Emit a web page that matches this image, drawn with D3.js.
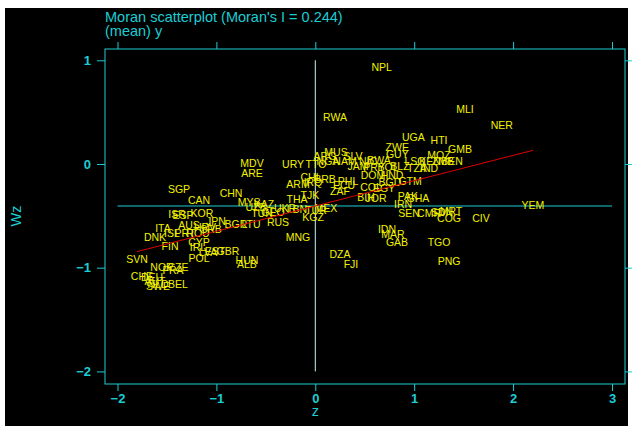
<!DOCTYPE html>
<html>
<head>
<meta charset="utf-8">
<script src="https://cdn.jsdelivr.net/npm/d3@7"></script>
<style>
  html, body { margin: 0; padding: 0; background: #ffffff; }
  svg { display: block; }
</style>
</head>
<body>
<svg id="chart" width="633" height="428"></svg>
<script>
// ---- data ----
const titleLines = ["Moran scatterplot (Moran's I = 0.244)", "(mean) y"];
const xTicks = [-2, -1, 0, 1, 2, 3];
const yTicks = [-2, -1, 0, 1];
const moranI = 0.244;
const meanWz = -0.405;

const countries = ["NPL","RWA","MLI","NER","HTI","UGA","GMB","ZWE","MOZ","GUY","LSO","KEN","ZMB","BEN","TZA","IND",
  "MUS","ARG","TTO","NGA","SLV","NAM","JAM","NIC","BWA","PRY","BOL","BLZ","DOM","HND","BGD","GTM","PHL","ECU","ZAF",
  "COL","EGY","PAK","GHA","JOR","BIH","IRN","SEN","CMR","SDN","MRT","COG","CIV","YEM","IDN","MAR","GAB","TGO","PNG",
  "FJI","DZA","MDV","ARE","URY","CHL","ARM","IRQ","BRB","TJK","THA","MYS","KAZ","UZB","UKR","LBN","TUN","GEO","RUS",
  "TUR","MEX","KGZ","MNG","SGP","CAN","CHN","ISR","ESP","KOR","JPN","AUS","ITA","HRV","SRB","BGR","LTU","DNK","ISL",
  "PRT","ROU","FIN","CYP","IRL","LVA","EST","GBR","SVN","POL","HUN","ALB","NOR","CZE","FRA","CHE","DEU","AUT","NLD",
  "SWE","BEL"];
const zValues = [0.671,0.199,1.514,1.885,1.251,0.991,1.463,0.829,1.251,0.829,1.008,1.160,1.291,1.382,1.028,1.150,
  0.209,0.098,0.007,0.128,0.381,0.300,0.432,0.533,0.644,0.594,0.735,0.856,0.583,0.776,0.755,0.958,0.331,0.290,0.250,
  0.563,0.695,0.937,1.038,0.614,0.513,0.887,0.947,1.150,1.281,1.372,1.352,1.675,2.201,0.725,0.786,0.826,1.251,1.352,
  0.361,0.250,-0.640,-0.640,-0.225,-0.043,-0.175,-0.023,0.098,-0.054,-0.185,-0.670,-0.519,-0.600,-0.306,-0.185,-0.539,-0.428,-0.377,
  0.007,0.108,-0.023,-0.175,-1.378,-1.176,-0.852,-1.398,-1.338,-1.146,-1.004,-1.277,-1.540,-1.115,-1.055,-0.802,-0.650,-1.621,-1.449,
  -1.318,-1.186,-1.469,-1.176,-1.186,-1.085,-1.014,-0.883,-1.803,-1.176,-0.691,-0.691,-1.550,-1.388,-1.439,-1.753,-1.651,-1.621,-1.590,
  -1.590,-1.388];
const wzValues = [0.938,0.453,0.530,0.373,0.231,0.257,0.148,0.167,0.087,0.094,0.029,0.029,0.029,0.029,-0.039,-0.039,
  0.116,0.077,0.000,0.029,0.077,0.029,-0.019,0.029,0.039,-0.029,-0.029,-0.019,-0.106,-0.106,-0.174,-0.164,-0.164,-0.203,-0.260,
  -0.222,-0.231,-0.309,-0.328,-0.328,-0.318,-0.386,-0.473,-0.473,-0.463,-0.453,-0.521,-0.521,-0.395,-0.627,-0.675,-0.752,-0.752,-0.935,
  -0.964,-0.868,0.010,-0.087,0.000,-0.125,-0.193,-0.174,-0.145,-0.299,-0.338,-0.366,-0.386,-0.415,-0.424,-0.434,-0.473,-0.463,-0.559,
  -0.444,-0.424,-0.511,-0.704,-0.241,-0.347,-0.280,-0.482,-0.492,-0.473,-0.550,-0.588,-0.617,-0.608,-0.627,-0.579,-0.579,-0.704,-0.665,
  -0.665,-0.665,-0.791,-0.752,-0.800,-0.849,-0.839,-0.839,-0.916,-0.906,-0.926,-0.964,-0.993,-0.993,-1.022,-1.080,-1.090,-1.128,-1.157,
  -1.176,-1.157];

// ---- drawing ----
const CYAN = "#1ccdd4";
const YELLOW = "#f2f200";
const RED = "#e00000";
const FONT = "'Liberation Sans', Arial, Helvetica, sans-serif";

const svg = d3.select("#chart");
svg.append("rect").attr("x", 5).attr("y", 8).attr("width", 623).attr("height", 418).attr("fill", "#000");

const frame = {left: 105, right: 625, top: 49, bottom: 384};
const x = d3.scaleLinear().domain([-2, 3]).range([117.5, 612]);
const y = d3.scaleLinear().domain([-2, 1]).range([371.4, 60.3]);

// title
svg.append("g").selectAll("text").data(titleLines).join("text")
  .attr("x", 105).attr("y", (d, i) => 22 + i * 14)
  .attr("fill", CYAN).attr("font-family", FONT).attr("font-size", 14.5)
  .text(d => d);

// frame
svg.append("rect").attr("x", frame.left).attr("y", frame.top)
  .attr("width", frame.right - frame.left).attr("height", frame.bottom - frame.top)
  .attr("fill", "none").attr("stroke", CYAN).attr("stroke-width", 1);

// axes with mirrored ticks
const axisStyle = g => {
  g.selectAll("path").remove();
  g.selectAll("line").attr("stroke", CYAN);
  g.selectAll("text").attr("fill", CYAN).attr("font-family", FONT).attr("font-size", 13).attr("font-weight", "bold");
};
svg.append("g").attr("transform", `translate(0,${frame.bottom})`)
  .call(d3.axisBottom(x).tickValues(xTicks).tickSize(7).tickPadding(3).tickFormat(d3.format("d")))
  .call(axisStyle);
svg.append("g").attr("transform", `translate(0,${frame.top})`)
  .call(d3.axisTop(x).tickValues(xTicks).tickSize(7).tickFormat(""))
  .call(axisStyle);
svg.append("g").attr("transform", `translate(${frame.left},0)`)
  .call(d3.axisLeft(y).tickValues(yTicks).tickSize(8).tickPadding(6).tickFormat(d3.format("d")))
  .call(axisStyle);
svg.append("g").attr("transform", `translate(${frame.right},0)`)
  .call(d3.axisRight(y).tickValues(yTicks).tickSize(7).tickFormat(""))
  .call(axisStyle);

// axis titles
svg.append("text").attr("x", x(0)).attr("y", 416).attr("text-anchor", "middle")
  .attr("fill", CYAN).attr("font-family", FONT).attr("font-size", 14.5).text("z");
svg.append("text").attr("transform", `translate(21,${216}) rotate(-90)`).attr("text-anchor", "middle")
  .attr("fill", CYAN).attr("font-family", FONT).attr("font-size", 14.5).text("Wz");

// reference lines
svg.append("line").attr("x1", x(0)).attr("x2", x(0)).attr("y1", y(1)).attr("y2", y(-2))
  .attr("stroke", "#c8f4f6").attr("stroke-width", 1);
svg.append("line").attr("x1", x(-2)).attr("x2", x(3)).attr("y1", y(meanWz)).attr("y2", y(meanWz))
  .attr("stroke", CYAN).attr("stroke-width", 1);

// labels
const pts = countries.map((c, i) => ({c, z: zValues[i], wz: wzValues[i]}));
svg.append("g").selectAll("text").data(pts).join("text")
  .attr("x", d => x(d.z)).attr("y", d => y(d.wz))
  .attr("text-anchor", "middle").attr("dominant-baseline", "central")
  .attr("fill", YELLOW).attr("font-family", FONT).attr("font-size", 10.5)
  .text(d => d.c);

// fitted line
const [zmin, zmax] = d3.extent(zValues);
svg.append("line")
  .attr("x1", x(zmin)).attr("y1", y(meanWz + moranI * zmin))
  .attr("x2", x(zmax)).attr("y2", y(meanWz + moranI * zmax))
  .attr("stroke", RED).attr("stroke-width", 1);
</script>
</body>
</html>
